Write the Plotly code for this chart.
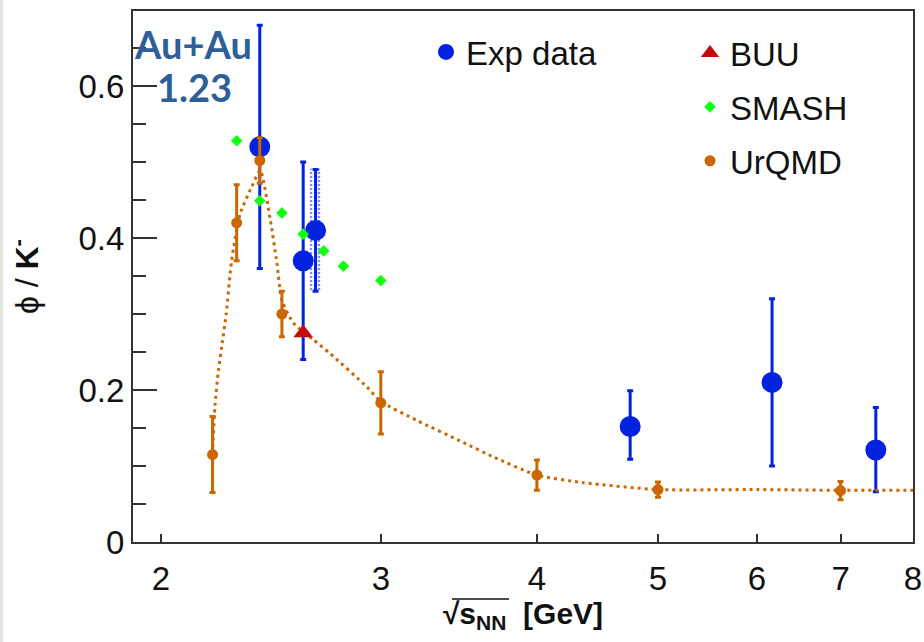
import plotly.graph_objects as go

# ---------------- data ----------------
exp_x = [2.40, 2.60, 2.66, 4.75, 6.17, 7.47]
exp_y = [0.52, 0.37, 0.41, 0.152, 0.21, 0.121]
exp_err_plus = [0.16, 0.13, 0.08, 0.047, 0.11, 0.056]
exp_err_minus = [0.16, 0.13, 0.08, 0.043, 0.11, 0.055]

# systematic box for the 2.66 GeV point
sys_x_lo = 2.63
sys_x_hi = 2.69
sys_y_lo = 0.330
sys_y_hi = 0.491

buu_x = [2.60]
buu_y = [0.275]

smash_x = [2.3, 2.4, 2.5, 2.6, 2.7, 2.8, 3.0]
smash_y = [0.528, 0.449, 0.433, 0.405, 0.383, 0.363, 0.344]

urqmd_x = [2.2, 2.3, 2.4, 2.5, 3.0, 4.0, 5.0, 7.0]
urqmd_y = [0.115, 0.420, 0.502, 0.300, 0.183, 0.088, 0.069, 0.0675]
urqmd_err = [0.05, 0.05, 0.03, 0.03, 0.041, 0.02, 0.01, 0.012]

curve_x = [2.20, 2.210, 2.224, 2.238, 2.256, 2.279, 2.315, 2.365, 2.402, 2.447,
           2.477, 2.500, 2.554, 2.650, 2.732, 2.924, 3.0, 3.206, 3.472, 3.691,
           4.0, 4.359, 5.0, 6.0, 7.0, 8.0]
curve_y = [0.115, 0.18, 0.226, 0.258, 0.30, 0.371, 0.432, 0.4675, 0.489, 0.424,
           0.367, 0.318, 0.288, 0.266, 0.248, 0.204, 0.185, 0.16, 0.133, 0.112,
           0.088, 0.078, 0.069, 0.069, 0.068, 0.068]

x_tickvals = [2, 3, 4, 5, 6, 7, 8]
x_ticktext = ["2", "3", "4", "5", "6", "7", "8"]
y_tickvals = [0, 0.2, 0.4, 0.6]
y_ticktext = ["0", "0.2", "0.4", "0.6"]

# ---------------- styles ----------------
BLUE = "#0322E0"
ORANGE = "#CC6600"
GREEN = "#11FF11"
RED = "#C40C0C"
FONT = "Liberation Sans, Arial, sans-serif"

fig = go.Figure()

# systematic uncertainty box (dotted fill)
fig.add_trace(go.Scatter(
    x=[sys_x_lo, sys_x_hi, sys_x_hi, sys_x_lo, sys_x_lo],
    y=[sys_y_lo, sys_y_lo, sys_y_hi, sys_y_hi, sys_y_lo],
    mode="lines", fill="toself", line=dict(width=0, color=BLUE),
    fillcolor="rgba(0,0,0,0)",
    fillpattern=dict(shape=".", fgcolor=BLUE, bgcolor="white", size=4, solidity=0.35),
    showlegend=False, hoverinfo="skip"))

fig.add_trace(go.Scatter(
    x=exp_x, y=exp_y, mode="markers", name="Exp data",
    marker=dict(color=BLUE, size=21, symbol="circle"),
    error_y=dict(type="data", array=exp_err_plus, arrayminus=exp_err_minus,
                 color=BLUE, thickness=3, width=3),
    legend="legend", legendrank=1))

fig.add_trace(go.Scatter(
    x=curve_x, y=curve_y, mode="lines",
    line=dict(color=ORANGE, width=3, dash="3px,4px", shape="spline", smoothing=0.6),
    showlegend=False, hoverinfo="skip"))

fig.add_trace(go.Scatter(
    x=urqmd_x, y=urqmd_y, mode="markers", name="UrQMD",
    marker=dict(color=ORANGE, size=11, symbol="circle"),
    error_y=dict(type="data", array=urqmd_err, color=ORANGE, thickness=3, width=3),
    legend="legend2", legendrank=4, legendgroup="u"))

fig.add_trace(go.Scatter(
    x=smash_x, y=smash_y, mode="markers", name="SMASH",
    marker=dict(color=GREEN, size=9, symbol="diamond"),
    legend="legend2", legendrank=3, legendgroup="s"))

fig.add_trace(go.Scatter(
    x=buu_x, y=buu_y, mode="markers", name="BUU",
    marker=dict(color=RED, size=17, symbol="triangle-up"),
    legend="legend2", legendrank=2, legendgroup="b"))

# faint strip at left edge
fig.add_shape(type="rect", xref="paper", yref="paper", x0=-133/780, x1=-130/780,
              y0=-100/531, y1=1 + 11/531, fillcolor="#E4E6DC", line_width=0, layer="below")

# overline of the square-root sign in the x title
fig.add_shape(type="line", xref="paper", yref="paper",
              x0=(452 - 133) / 780, x1=(509 - 133) / 780,
              y0=(542 - 599) / 531, y1=(542 - 599) / 531,
              line=dict(color="#111111", width=1.5))

ann_font = dict(family="Lato, sans-serif", size=38, color="#2E5F99")
fig.add_annotation(
    text="<b>Au+Au</b>", xref="paper", yref="paper",
    x=(193 - 133) / 780, y=1 - (19 - 11) / 531, xanchor="center", yanchor="top",
    showarrow=False, font=ann_font)
fig.add_annotation(
    text="<b>1.23</b>", xref="paper", yref="paper",
    x=(194 - 133) / 780, y=1 - (62 - 11) / 531, xanchor="center", yanchor="top",
    showarrow=False, font=ann_font)

axis_common = dict(showline=True, linecolor="#333333", linewidth=2, mirror=True,
                   showgrid=False, zeroline=False, automargin=False,
                   tickfont=dict(family=FONT, size=33, color="#111111"),
                   tickcolor="#333333", tickwidth=2, ticks="inside")

fig.update_layout(
    width=924, height=642,
    margin=dict(l=133, r=11, t=11, b=100),
    paper_bgcolor="white", plot_bgcolor="white",
    font=dict(family=FONT, color="#111111"),
    xaxis=dict(type="log", range=[0.27875, 0.90309],
               tickvals=x_tickvals, ticktext=x_ticktext, ticklen=8,
               ticklabelstandoff=6,
               title=dict(text="<b>√s<sub>NN</sub>  [GeV]</b>",
                          font=dict(family=FONT, size=30, color="#111111"), standoff=6),
               **axis_common),
    yaxis=dict(range=[0, 0.6987], tickvals=y_tickvals, ticktext=y_ticktext, ticklen=24,
               minor=dict(dtick=0.05, tick0=0, ticklen=13, ticks="inside",
                          tickcolor="#333333", tickwidth=2),
               title=dict(text="ϕ / <b>K<sup>-</sup></b>",
                          font=dict(family=FONT, size=32, color="#111111"), standoff=30),
               **axis_common),
    legend=dict(x=(426 - 133) / 780, y=1 - (24 - 11) / 531, xanchor="left", yanchor="top",
                bgcolor="rgba(0,0,0,0)", borderwidth=0,
                font=dict(family=FONT, size=33, color="#111111")),
    legend2=dict(x=(690 - 133) / 780, y=1 - (25 - 11) / 531, xanchor="left", yanchor="top",
                 bgcolor="rgba(0,0,0,0)", borderwidth=0, traceorder="grouped",
                 tracegroupgap=8,
                 font=dict(family=FONT, size=33, color="#111111")),
)

fig.write_html("out.html")
